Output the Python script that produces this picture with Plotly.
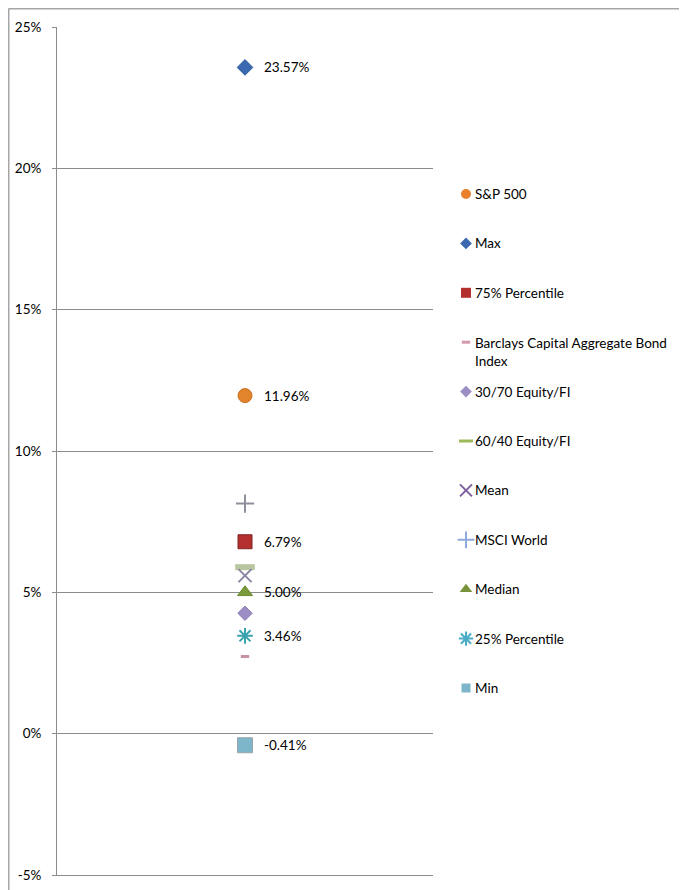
import plotly.graph_objects as go

# ---------------- data ----------------
series_names = ["S&P 500", "Max", "75% Percentile",
                "Barclays Capital Aggregate Bond Index", "30/70 Equity/FI",
                "60/40 Equity/FI", "Mean", "MSCI World", "Median",
                "25% Percentile", "Min"]
legend_labels = ["S&P 500", "Max", "75% Percentile",
                 "Barclays Capital Aggregate Bond<br>Index", "30/70 Equity/FI",
                 "60/40 Equity/FI", "Mean", "MSCI World", "Median",
                 "25% Percentile", "Min"]
series_values = [11.96, 23.57, 6.79, 2.73, 4.26, 5.89, 5.59, 8.14, 5.00, 3.46, -0.41]
show_label = [True, True, True, False, False, False, False, False, True, True, True]
tick_vals = [-5, 0, 5, 10, 15, 20, 25]
tick_text = ["-5%", "0%", "5%", "10%", "15%", "20%", "25%"]

# ---------------- styles ----------------
# (symbol, size, fill colour, line colour, line width, legend colour, legend size)
styles = [
    ("circle", 14, "#E2842B", "#C86E1E", 1, "#E8802C", 10),
    ("diamond", 12, "#3A69B0", "#2E5A9C", 1, "#3A69B0", 9),
    ("square", 14, "#B3302E", "#7E2424", 1, "#B3302E", 10),
    ("line-ew-open", 6, "#C890A0", "#C890A0", 3, "#D49AAA", 6),
    ("diamond", 11, "#9C8DC4", "#8A7BB4", 1, "#9C8DC4", 9),
    ("line-ew-open", 14, "#B9C7A0", "#B9C7A0", 6, "#9BBB59", 10),
    ("x-thin-open", 13, "#8A84A2", "#8A84A2", 2, "#7D5F9E", 12),
    ("cross-thin-open", 13, "#8E909C", "#8E909C", 2, "#8EA9DB", 12),
    ("triangle-up", 13, "#7A9A3C", "#6A8A30", 1, "#77933C", 11),
    ("asterisk-open", 13, "#3AA3AE", "#3AA3AE", 2, "#4BACC6", 12),
    ("square", 15, "#7DB6CA", "#9AA4AA", 1, "#7DB6CA", 9),
]

FONT = "Lato, 'Open Sans', Arial, sans-serif"
FS = 13.5
GRID = "#8C8C8C"

OFF = 8                      # page body margin: page px = figure px + OFF
W, H = 687 - OFF, 890 - OFF
ML, MT = 57 - OFF, 27 - OFF  # plot area starts at page (57, 27)
MB = H - (875 - OFF)         # plot area bottom at page y 875
MR = 0
plot_w = W - ML - MR
main_right = 433 - OFF
legend_left = 440 - OFF

fig = go.Figure()

# data markers
for name, val, st in zip(series_names, series_values, styles):
    sym, size, col, lcol, lw, _, _ = st
    fig.add_trace(go.Scatter(
        x=[0], y=[val], mode="markers", name=name, showlegend=False,
        marker=dict(symbol=sym, size=size, color=col,
                    line=dict(color=lcol, width=lw)),
        xaxis="x", yaxis="y", hoverinfo="name+y"))

# data labels
for val, flag in zip(series_values, show_label):
    if flag:
        fig.add_annotation(x=0, y=val, xref="x", yref="y", text=f"{val:.2f}%",
                           showarrow=False, xanchor="left", yanchor="middle",
                           xshift=17, font=dict(family=FONT, size=FS, color="#000"))

# manual legend (axes in page-pixel coordinates, right area)
leg_y0, leg_step = 194, 49.4
leg_mx, leg_tx = 466, 473
for i, (lab, st) in enumerate(zip(legend_labels, styles)):
    sym, size, col, lcol, lw, lgcol, lgsize = st
    y = leg_y0 + i * leg_step
    if sym.endswith("-open"):
        mk = dict(symbol=sym, size=lgsize, color=lgcol,
                  line=dict(color=lgcol, width=lw if lw < 4 else 3))
    else:
        mk = dict(symbol=sym, size=lgsize, color=lgcol, line=dict(color=lgcol, width=0))
    fig.add_trace(go.Scatter(x=[leg_mx], y=[y], mode="markers", marker=mk,
                             showlegend=False, hoverinfo="skip",
                             xaxis="x2", yaxis="y2"))
    if "<br>" in lab:
        fig.add_annotation(x=leg_tx, y=y - 9.5, xref="x2", yref="y2", text=lab,
                           showarrow=False, xanchor="left", yanchor="top", align="left",
                           font=dict(family=FONT, size=FS, color="#000"))
    else:
        fig.add_annotation(x=leg_tx, y=y, xref="x2", yref="y2", text=lab,
                           showarrow=False, xanchor="left", yanchor="middle",
                           font=dict(family=FONT, size=FS, color="#000"))

# outer chart border (left and top visible)
def fx(p):
    return (p - ML) / plot_w
def fy(p):
    return (H - MB - p) / (H - MT - MB)

fig.add_shape(type="line", xref="paper", yref="paper",
              x0=fx(0.5), x1=fx(0.5), y0=fy(0.5), y1=fy(H + 5),
              line=dict(color="#A6A6A6", width=2))
fig.add_shape(type="line", xref="paper", yref="paper",
              x0=fx(0.5), x1=fx(W + 5), y0=fy(0.5), y1=fy(0.5),
              line=dict(color="#A6A6A6", width=2))

fig.update_layout(
    width=W, height=H,
    margin=dict(l=ML, r=MR, t=MT, b=MB, pad=0),
    paper_bgcolor="white", plot_bgcolor="white",
    font=dict(family=FONT, size=FS, color="#000"),
    showlegend=False,
    xaxis=dict(domain=[0, (main_right - ML) / plot_w], range=[-1, 1],
               showgrid=False, zeroline=False, showticklabels=False,
               showline=True, linecolor=GRID, linewidth=1, ticks="",
               fixedrange=True),
    yaxis=dict(range=[-5, 25], tickvals=tick_vals, ticktext=tick_text,
               showgrid=True, gridcolor=GRID, gridwidth=1,
               zeroline=False, showline=True, linecolor=GRID, linewidth=1,
               ticks="outside", ticklen=4, tickcolor=GRID,
               ticklabelstandoff=8, tickfont=dict(family=FONT, size=FS, color="#000"),
               fixedrange=True),
    xaxis2=dict(domain=[(legend_left - ML) / plot_w, 1], range=[440, 687],
                visible=False, fixedrange=True, anchor="y2"),
    yaxis2=dict(domain=[0, 1], range=[875, 27], visible=False,
                fixedrange=True, anchor="x2"),
)

fig.write_html("out.html")
